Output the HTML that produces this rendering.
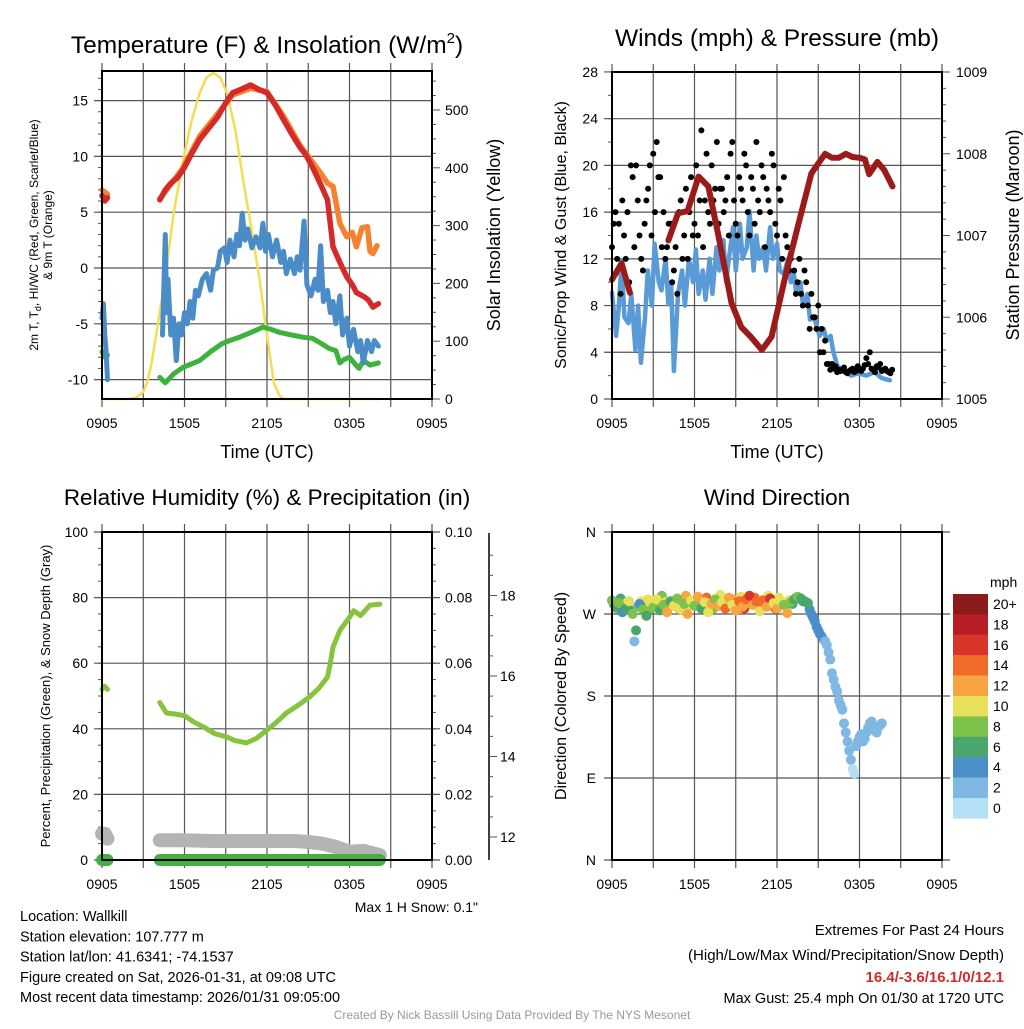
<!DOCTYPE html>
<html><head><meta charset="utf-8"><style>
body{margin:0;background:#fff;width:1024px;height:1024px;overflow:hidden}
svg{font-family:"Liberation Sans",sans-serif}
</style></head><body>
<svg id="c" width="1024" height="1024" viewBox="0 0 1024 1024"></svg>
<script>
// ---------- DATA (hours since 0905 UTC) ----------
const xTickLabels=["0905","1505","2105","0305","0905"];
const tempTimes=[0,0.2,0.4,4.2,4.6,5.0,5.5,5.9,6.5,7.1,7.8,8.4,9.0,9.5,10.1,10.8,11.4,12.0,12.6,13.2,13.8,14.4,14.8,15.4,15.9,16.4,16.8,17.3,17.8,18.2,18.5,19.1,19.4,19.7,20.1];
const tempVals=[6.5,6.0,6.3,6.1,7.0,7.6,8.1,8.8,10.2,11.5,12.6,13.5,14.8,15.7,16.0,16.4,16.0,15.7,14.6,13.3,12.0,10.8,10.2,8.8,7.5,6.1,1.9,0.5,-0.8,-1.5,-2.2,-2.6,-2.9,-3.5,-3.2];
const t9Times=[0,0.2,0.4,4.2,5.0,5.9,7.1,8.4,9.5,10.8,12.0,13.2,14.4,15.0,15.9,16.4,16.8,17.3,17.8,18.2,18.5,18.9,19.3,19.5,19.7,20.0];
const t9Vals=[7.0,6.8,6.6,6.2,7.5,9.0,11.8,13.8,15.5,16.1,15.8,13.6,11.0,10.0,8.5,7.6,7.3,4.0,2.8,3.2,1.9,3.6,3.7,1.5,1.3,2.0];
const tdTimes=[0,0.1,0.2,0.3,0.4,4.4,4.6,4.7,4.8,5.0,5.2,5.4,5.6,5.8,6.0,6.2,6.4,6.6,6.8,7.0,7.3,7.6,7.9,8.1,8.4,8.6,8.9,9.1,9.3,9.6,9.8,10.0,10.2,10.4,10.6,10.9,11.2,11.5,11.7,11.9,12.1,12.4,12.7,13.0,13.2,13.4,13.7,14.0,14.2,14.4,14.7,14.9,15.2,15.5,15.7,15.9,16.1,16.4,16.6,16.8,17.0,17.3,17.5,17.8,18.0,18.3,18.6,18.8,19.0,19.3,19.6,19.8,20.1];
const tdVals=[-4.5,-3.2,-6,-7.5,-10,-6,3.0,-4,-1,-6,-4.5,-8.3,-5,-6,-4,-5,-3,-4.5,-2,-2.5,-1,-0.5,-2,-0.2,0,1.5,1.8,0.5,2.5,1,3.0,2.0,4.9,2.5,3.5,1.8,2.8,1.8,4,1.5,3,1.0,2.5,0.5,1.5,-0.5,0.8,-0.5,1,-0.2,4.2,-1.5,-2.5,-1,-2,2,-3,-2,-4,-3,-5,-2.5,-6,-4.5,-7,-5.5,-7.5,-6.5,-8.5,-6.5,-7.5,-6.5,-7];
const hiTimes=[0,0.2,0.4,4.2,4.6,5.2,5.9,6.5,7.1,7.9,8.7,9.3,10.0,10.8,11.7,12.3,13.0,13.8,14.6,15.3,16.0,16.5,17.0,17.3,17.6,18.0,18.4,18.7,19.0,19.5,20.1];
const hiVals=[-7.5,-8,-7.8,-9.8,-10.3,-9.5,-8.9,-8.6,-8.3,-7.5,-6.8,-6.5,-6.2,-5.8,-5.3,-5.5,-5.8,-6.0,-6.2,-6.3,-6.8,-7.2,-7.4,-8.5,-8.2,-8.0,-8.6,-9,-8.3,-8.7,-8.5];
const solTimes=[0,2.0,2.5,3.0,3.3,3.6,4.0,4.6,5.2,5.9,6.5,7.1,7.6,8.1,8.6,9.1,9.7,10.3,10.9,11.5,12.0,12.5,12.9,13.2,20.2];
const solVals=[0,0,3,12,30,62,120,211,320,413,480,529,556,564,556,529,465,374,290,200,110,28,6,0,0];
// winds / pressure
const windTimes=[0,0.3,0.5,0.7,0.9,1.2,1.4,1.7,1.9,2.1,2.4,2.6,2.9,3.1,3.4,3.6,3.9,4.1,4.3,4.5,4.8,5.1,5.3,5.6,5.9,6.1,6.3,6.6,6.8,7.1,7.3,7.6,7.8,8.1,8.3,8.5,8.8,9.0,9.3,9.5,9.8,10.0,10.3,10.5,10.7,11.0,11.2,11.5,11.7,12.0,12.2,12.5,12.8,13.0,13.2,13.4,13.7,13.9,14.2,14.4,14.7,15.1,15.4,15.6,15.9,16.1,16.4,16.8,17.4,17.9,18.5,19.1,19.6,20.2];
const windVals=[9.1,5.4,8,11.9,7,6.5,9,4.2,8,3.1,7,11,8,13.3,10,9.3,12,8.1,10,2.4,9,11,8,12,10,12.8,9,11,8.5,12,9,13,11,13.6,10,12,14.7,11,15,12,13,16.1,11,14,12,13,11,14.7,12,13.3,11,10.7,12,10,11,9,10,8,9,6.8,7,5.4,6,5,5.4,4,2.8,2.5,2,2.2,2,2.3,1.8,1.6];
const gustTimes=[0,0.25,0.5,0.75,1,1.25,1.5,1.75,2,2.25,2.5,2.75,3,3.25,3.5,3.75,4,4.25,4.5,4.75,5,5.25,5.5,5.75,6,6.25,6.5,6.75,7,7.25,7.5,7.75,8,8.25,8.5,8.75,9,9.25,9.5,9.75,10,10.25,10.5,10.75,11,11.25,11.5,11.75,12,12.25,12.5,12.75,13,13.25,13.5,13.75,14,14.25,14.5,14.75,15,15.25,15.5,15.75,16,16.25,16.5,16.75,17,17.25,17.5,17.75,18,18.25,18.5,18.75,19,19.25,19.5,19.75,20,20.25];
const gustVals=[13,16,15,17,12,10,19,20,14,11,17,20,21,22,19,16,13,15,11,9,17,14,12,19,15,14,23,17,16,20,18,15,18,17,14,22,15,19,17,20,14,18,22,16,19,18,16,20,14,17,19,13,12,11,10,9,11,8,9,7,8,6,5,3,3,2.8,2.5,2.5,2.3,2.4,2.6,2.4,2.5,2.6,3.5,4,2.5,2.8,3,2.5,2.4,2.2];
const gust2Vals=[15,12,9,14,16,20,13,17,12,15,18,14,16,19,13,12,15,10,13,16,12,18,16,14,20,17,13,21,15,17,22,18,16,19,21,17,14,18,21,16,19,15,17,20,13,17,21,15,18,12,14,11,13,9,12,8,10,6,7,6,4,4,3,2.5,2.6,2.3,2.4,2.7,2.2,2.5,2.3,2.8,2.4,2.9,3,2.6,2.3,2.7,2.4,2.6,2.3,2.5];
const presTimes=[0,0.7,1.3,4.1,4.8,5.5,6.3,7.0,7.7,8.7,9.4,10.1,10.9,11.6,12.6,13.5,14.5,15.5,16.0,16.5,17.0,17.5,18.0,18.4,18.7,19.3,19.8,20.4];
const presVals=[1006.46,1006.66,1006.3,1006.94,1007.27,1007.3,1007.72,1007.6,1007.03,1006.17,1005.88,1005.76,1005.6,1005.76,1006.5,1007.1,1007.76,1008.0,1007.95,1007.95,1008.0,1007.96,1007.95,1007.93,1007.75,1007.9,1007.8,1007.6];
// RH / precip / snow
const rhTimes=[0,0.2,0.4,4.2,4.5,4.7,5.3,6.0,6.7,7.4,8.2,9.1,9.6,10.5,11.2,12.0,12.7,13.4,14.2,15.1,15.8,16.4,16.6,16.8,17.3,18.0,18.3,18.8,19.5,20.2];
const rhVals=[52,53,52,48,46,44.8,44.5,44,42,40.5,38.5,37.5,36.5,35.7,37,39.6,42,44.8,47,49.7,52.5,55.8,60,64.9,70,74,76,74.5,77.7,78];
const snowTimes=[0,0.2,0.4,4.2,6,8,10,12,14,15,16,17,18,19,20.2];
const snowVals=[8,8,6.5,6,6,5.8,5.8,5.8,5.8,5.5,5,4,2.5,2.8,1.5];
const precipTimes=[0,0.4,4.2,6,8,10,12,14,16,18,20.2];
const precipVals=[0,0,0,0,0,0,0,0,0,0,0];
// wind direction
const dirTimes=[0,0.25,0.5,0.75,1,1.25,1.5,1.75,2,2.25,2.5,2.75,3,3.25,3.5,3.75,4,4.25,4.5,4.75,5,5.25,5.5,5.75,6,6.25,6.5,6.75,7,7.25,7.5,7.75,8,8.25,8.5,8.75,9,9.25,9.5,9.75,10,10.25,10.5,10.75,11,11.25,11.5,11.75,12,12.25,12.5,12.75,13,13.25,13.5,13.75,14,14.25,14.5,14.75,15,15.25,15.5,15.75,16,16.25,16.5,16.75,17,17.25,17.5,17.75,18,18.25,18.5,18.75,19,19.25,19.5];
const dirVals=[285,278,282,272,276,284,270,252,281,275,268,283,277,286,274,280,272,284,279,287,275,281,270,285,279,289,276,283,272,281,286,279,283,276,288,280,274,284,278,286,290,280,284,273,285,278,287,282,276,284,280,271,283,286,289,287,284,282,270,262,252,245,240,228,205,190,175,165,140,120,100,125,135,130,140,150,145,140,148];
const dir2Vals=[281,276,287,279,283,274,240,278,284,279,286,276,281,278,290,283,277,280,285,276,283,290,279,282,286,279,284,288,281,276,284,291,280,284,279,286,283,289,276,282,284,288,279,285,283,290,280,276,288,282,279,285,281,288,287,284,283,275,266,256,248,242,236,220,198,185,170,150,130,110,95,130,138,133,145,152,142,146,150];
const dirSpeed=[8,6,9,5,7,10,8,6,4,9,7,11,8,10,6,9,12,7,10,9,11,8,12,10,9,12,7,11,10,13,9,12,11,14,12,10,13,15,12,14,17,13,15,11,14,12,16,10,13,11,9,12,8,7,8,7,6,7,5,4,5,4,3,3,2,2,2,2,2,2,1,2,2,2,2,2,2,2,2];
const dir2Speed=[7,9,6,8,10,5,3,9,11,7,10,8,6,12,9,11,8,10,7,12,9,13,11,8,10,9,12,14,11,9,13,10,12,15,11,13,14,10,16,12,13,15,14,12,16,11,13,14,10,12,9,11,7,8,7,6,7,5,4,4,4,3,3,3,2,2,2,2,2,2,1,2,2,2,2,2,2,2,2];
const cbarColors=["#8b1a1a","#b81c24","#d9342b","#f06a2a","#f7a541","#e6e05a","#7dc24b","#4aa66d","#4a8fc7","#7fb9e3","#b3e0f5"];
const cbarLabels=["20+","18","16","14","12","10","8","6","4","2","0"];

// ---------- DRAW ----------
const NS="http://www.w3.org/2000/svg";
const svg=document.getElementById('c');
function el(tag,attrs,parent,txt){const e=document.createElementNS(NS,tag);for(const k in attrs)e.setAttribute(k,attrs[k]);if(txt!==undefined)e.textContent=txt;(parent||svg).appendChild(e);return e;}
function text(x,y,s,size,anchor,name,extra){const e=el('text',Object.assign({x:x,y:y,'font-size':size,'text-anchor':anchor||'middle',fill:'#000'},extra||{}),svg,s);

return e;}
function panel(name){const g=el('g',{});

return g;}
function xs(p,t){return p.x0+t*(p.x1-p.x0)/24;}
function line(g,x1,y1,x2,y2,st,w){el('line',{x1:x1,y1:y1,x2:x2,y2:y2,stroke:st,'stroke-width':w},g);}
function xaxis(p,g){for(let i=0;i<=8;i++){const x=xs(p,i*3);line(g,x,p.y0-8,x,p.y1+8,'#555',1.2);}
 xTickLabels.forEach((l,i)=>{text(xs(p,i*6),p.y1+29,l,14,'middle','x-tick-label');});}
function seriesPath(g,times,vals,fx,fy,color,w,name,gap){let d='';let prev=null;times.forEach((t,i)=>{const cmd=(prev===null||t-prev>gap)?'M':'L';d+=cmd+fx(t).toFixed(1)+','+fy(vals[i]).toFixed(1)+' ';prev=t;});
 const e=el('path',{d:d,fill:'none',stroke:color,'stroke-width':w,'stroke-linejoin':'round','stroke-linecap':'round'},g);
 
 return e;}

// Panel 1: Temperature
const P1={x0:102,x1:432,y0:71,y1:399};
const g1=panel('temperature-panel');
const ty=v=>268-v*11.16, sy=v=>399-v*0.578;
for(let v=-10;v<=15;v+=5){line(g1,P1.x0-8,ty(v),P1.x1,ty(v),'#555',1.2);text(P1.x0-14,ty(v)+5,String(v),14,'end','temp-tick-label');}
for(let v=-10;v<=17;v++){line(g1,P1.x0-4,ty(v),P1.x0,ty(v),'#555',1);}
for(let v=0;v<=550;v+=25){line(g1,P1.x1,sy(v),P1.x1+(v%100===0?8:4),sy(v),'#555',1);}
for(let v=0;v<=500;v+=100){text(P1.x1+13,sy(v)+5,String(v),14,'start','insolation-tick-label');}
xaxis(P1,g1);
const f1=t=>xs(P1,t);
seriesPath(g1,solTimes,solVals,f1,sy,'#f5dc50',2.5,'insolation-line',99);
seriesPath(g1,hiTimes,hiVals,f1,ty,'#3db33d',5,'heat-index-line',3);
seriesPath(g1,tdTimes,tdVals,f1,ty,'#4a8cc8',5,'dewpoint-line',3);
seriesPath(g1,t9Times,t9Vals,f1,ty,'#f58231',5.5,'temp-9m-line',3);
seriesPath(g1,tempTimes,tempVals,f1,ty,'#d42a2a',5.5,'temp-2m-line',3);
el('rect',{x:P1.x0,y:P1.y0,width:P1.x1-P1.x0,height:P1.y1-P1.y0,fill:'none',stroke:'#000','stroke-width':2},g1);
text(267,53,'',24.5,'middle','temperature-title').innerHTML='Temperature (F) &amp; Insolation (W/m<tspan dy="-10" font-size="15">2</tspan><tspan dy="10">)</tspan>';
text(267,458,'Time (UTC)',18,'middle','x-axis-title');
text(0,0,'',12,'middle','temp-y-title',{transform:'translate(38,235) rotate(-90)'}).innerHTML='2m T, T<tspan dy="3" font-size="9">d</tspan><tspan dy="-3">, HI/WC (Red, Green, Scarlet/Blue)</tspan>';
text(0,0,'& 9m T (Orange)',12,'middle','temp-y-title-2',{transform:'translate(52,235) rotate(-90)'});
text(0,0,'Solar Insolation (Yellow)',18,'middle','insolation-y-title',{transform:'translate(500,235) rotate(-90)'});

// Panel 2: Winds
const P2={x0:612,x1:942,y0:72,y1:399};
const g2=panel('winds-panel');
const wy=v=>399-v*11.68, py=v=>399-(v-1005)*81.75;
for(let v=0;v<=28;v+=4){line(g2,P2.x0-8,wy(v),P2.x1,wy(v),'#555',1.2);text(P2.x0-14,wy(v)+5,String(v),14,'end','wind-tick-label');}
for(let v=0;v<=28;v+=2){line(g2,P2.x0-4,wy(v),P2.x0,wy(v),'#555',1);}
for(let v=1005;v<=1009.01;v+=0.2){line(g2,P2.x1,py(v),P2.x1+(Math.abs(v-Math.round(v))<0.01?8:4),py(v),'#555',1);}
for(let v=1005;v<=1009;v++){text(P2.x1+14,py(v)+5,String(v),14,'start','pressure-tick-label');}
xaxis(P2,g2);
const f2=t=>xs(P2,t);
seriesPath(g2,windTimes,windVals,f2,wy,'#5a9ad6',4.5,'wind-speed-line',99);
gustTimes.forEach((t,i)=>{const c=el('circle',{cx:f2(t),cy:wy(gustVals[i]),r:3,fill:'#000'},g2);

});
gustTimes.forEach((t,i)=>{const c=el('circle',{cx:f2(t+0.125),cy:wy(gust2Vals[i]),r:3,fill:'#000'},g2);

});
seriesPath(g2,presTimes,presVals,f2,py,'#9b1a1a',6,'pressure-line',2);
el('rect',{x:P2.x0,y:P2.y0,width:P2.x1-P2.x0,height:P2.y1-P2.y0,fill:'none',stroke:'#000','stroke-width':2},g2);
text(777,46,'Winds (mph) & Pressure (mb)',24.5,'middle','winds-title');
text(777,458,'Time (UTC)',18,'middle','x-axis-title');
text(0,0,'Sonic/Prop Wind & Gust (Blue, Black)',16,'middle','wind-y-title',{transform:'translate(566,235) rotate(-90)'});
text(0,0,'Station Pressure (Maroon)',18,'middle','pressure-y-title',{transform:'translate(1019,235) rotate(-90)'});

// Panel 3: RH
const P3={x0:102,x1:432,y0:532,y1:860};
const g3=panel('humidity-panel');
const ry=v=>860-v*3.28, ny=v=>837-(v-12)*40.25;
for(let v=0;v<=100;v+=20){line(g3,P3.x0-8,ry(v),P3.x1+8,ry(v),'#555',1.2);text(P3.x0-14,ry(v)+5,String(v),14,'end','rh-tick-label');text(P3.x1+13,ry(v)+5,(v/1000).toFixed(2),14,'start','precip-tick-label');}
for(let v=0;v<=100;v+=5){line(g3,P3.x0-4,ry(v),P3.x0,ry(v),'#555',1);line(g3,P3.x1,ry(v),P3.x1+4,ry(v),'#555',1);}
line(g3,489,533,489,860,'#000',1.5);
for(let v=12;v<=19;v+=0.5){line(g3,489,ny(v),489+(v%2===0?8:4),ny(v),'#555',1);}
for(let v=12;v<=18;v+=2){text(500,ny(v)+5,String(v),14,'start','snow-tick-label');}
xaxis(P3,g3);
const f3=t=>xs(P3,t);
seriesPath(g3,snowTimes,snowVals,f3,ry,'#b4b4b4',14,'snow-depth-line',3);
seriesPath(g3,precipTimes,precipVals,f3,ry,'#44b044',12,'precip-line',3);
seriesPath(g3,rhTimes,rhVals,f3,ry,'#86c440',5,'rh-line',3);
el('rect',{x:P3.x0,y:P3.y0,width:P3.x1-P3.x0,height:P3.y1-P3.y0,fill:'none',stroke:'#000','stroke-width':2},g3);
text(267,505,'Relative Humidity (%) & Precipitation (in)',22.5,'middle','humidity-title');
text(0,0,'Percent, Precipitation (Green), & Snow Depth (Gray)',13,'middle','rh-y-title',{transform:'translate(50,696) rotate(-90)'});
text(478,912,'Max 1 H Snow: 0.1"',14,'end','max-snow-note');

// Panel 4: Wind direction
const P4={x0:612,x1:942,y0:532,y1:860};
const g4=panel('wind-direction-panel');
const dy=v=>860-v*328/360;
const dl=['N','E','S','W','N'];
for(let i=0;i<5;i++){line(g4,P4.x0-8,dy(i*90),P4.x1+8,dy(i*90),'#555',1.2);text(P4.x0-16,dy(i*90)+5,dl[i],14,'end','direction-tick-label');}
xaxis(P4,g4);
const f4=t=>xs(P4,t);
function spdColor(s){let k=Math.min(10,Math.floor(s/2));return cbarColors[10-k];}
dirTimes.forEach((t,i)=>{const c=el('circle',{cx:f4(t+0.125),cy:dy(dir2Vals[i]),r:5,fill:spdColor(dir2Speed[i])},g4);

});
dirTimes.forEach((t,i)=>{const c=el('circle',{cx:f4(t),cy:dy(dirVals[i]),r:5,fill:spdColor(dirSpeed[i])},g4);

});
el('rect',{x:P4.x0,y:P4.y0,width:P4.x1-P4.x0,height:P4.y1-P4.y0,fill:'none',stroke:'#000','stroke-width':2},g4);
text(777,505,'Wind Direction',22.5,'middle','wind-direction-title');
text(0,0,'Direction (Colored By Speed)',16,'middle','direction-y-title',{transform:'translate(566,696) rotate(-90)'});
// colorbar
const gc=panel('speed-colorbar');
text(990,587,'mph',14,'start','colorbar-title');
cbarColors.forEach((c,i)=>{const r=el('rect',{x:953,y:594+i*20.4,width:35,height:20.6,fill:c},gc);


text(993,609+i*20.4,cbarLabels[i],14,'start','colorbar-label');});

// Footer text
const info=["Location: Wallkill","Station elevation: 107.777 m","Station lat/lon: 41.6341; -74.1537","Figure created on Sat, 2026-01-31, at 09:08 UTC","Most recent data timestamp: 2026/01/31 09:05:00"];
info.forEach((s,i)=>text(20,921+i*20.3,s,14.5,'start','station-info-line'));
text(1004,935,'Extremes For Past 24 Hours',15,'end','extremes-heading');
text(1004,960,'(High/Low/Max Wind/Precipitation/Snow Depth)',15,'end','extremes-subheading');
text(1004,982,'16.4/-3.6/16.1/0/12.1',15,'end','extremes-values',{fill:'#d42a2a','font-weight':'bold'});
text(1004,1003,'Max Gust: 25.4 mph On 01/30 at 1720 UTC',14.5,'end','max-gust-note');
text(512,1019,'Created By Nick Bassill Using Data Provided By The NYS Mesonet',12,'middle','credit-footer',{fill:'#999'});
</script>
</body></html>
